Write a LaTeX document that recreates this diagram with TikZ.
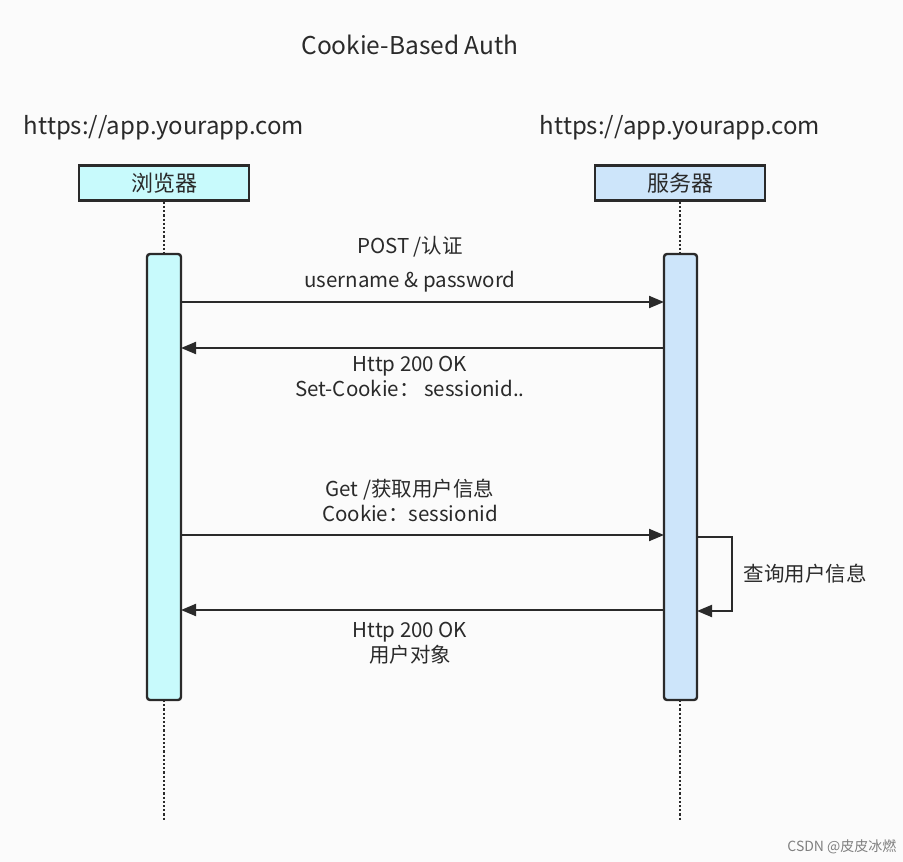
\documentclass[tikz,border=0pt]{standalone}
\usepackage{fontspec}
\setmainfont{Noto Sans CJK SC}
\usetikzlibrary{arrows.meta}
\definecolor{bcyan}{HTML}{C8FAFC}
\definecolor{sblue}{HTML}{CDE5FA}
\definecolor{ink}{HTML}{2A2A2A}
\begin{document}
\begin{tikzpicture}[x=1pt,y=-1pt,
  hdr/.style={draw=ink,line width=2.4pt,minimum width=170pt,minimum height=35pt,font=\fontsize{22}{24}\selectfont,text=ink},
  act/.style={draw=ink,line width=2.4pt,rounded corners=3pt},
  life/.style={ink,line width=2.2pt,dotted},
  msg/.style={ink,line width=2pt,-{Triangle[length=15pt,width=12pt]}},
  lbl/.style={font=\fontsize{20.5}{25}\selectfont,text=ink,align=center},
  url/.style={font=\fontsize{24}{26}\selectfont,text=ink}]
\fill[white!97!gray] (0,0) rectangle (903,862);
\useasboundingbox (0,0) rectangle (903,862);
\node[font=\fontsize{24.5}{26}\selectfont,text=ink] (title) at (410,45) {Cookie-Based Auth};
\node[url] (u1) at (164,128) {https://app.yourapp.com};
\node[url] (u2) at (680,128) {https://app.yourapp.com};
\node[hdr,fill=bcyan] (b) at (164,183) {浏览器};
\node[hdr,fill=sblue] (s) at (680,183) {服务器};
\draw[life] (b.south) -- (164,254);
\draw[life] (s.south) -- (680,254);
\draw[life] (164,700) -- (164,820);
\draw[life] (680,700) -- (680,820);
\draw[act,fill=bcyan] (147,254) rectangle (181,700);
\draw[act,fill=sblue] (664,254) rectangle (697,700);
\coordinate (l1) at (181,302); \coordinate (r1) at (664,302);
\coordinate (l2) at (181,348); \coordinate (r2) at (664,348);
\coordinate (l3) at (181,535); \coordinate (r3) at (664,535);
\coordinate (l4) at (181,610); \coordinate (r4) at (664,610);
\draw[msg] (l1) -- (r1);
\draw[msg] (r2) -- (l2);
\draw[msg] (l3) -- (r3);
\draw[msg] (r4) -- (l4);
\coordinate (sa) at (697,537); \coordinate (sb) at (697,611);
\draw[msg] (sa) -- (732,537) -- (732,611) -- (sb);
\node[lbl] (m1a) at (410,247) {POST /认证};
\node[lbl] (m1b) at (410,282) {username \& password};
\node[lbl] (m2) at (410,376) {Http 200 OK\\Set-Cookie：\ sessionid..};
\node[lbl] (m3) at (410,500) {Get /获取用户信息\\Cookie：sessionid};
\node[lbl] (m4) at (410,643) {Http 200 OK\\用户对象};
\node[lbl,anchor=west] (self) at (740,574) {查询用户信息};
\node[font=\fontsize{14}{16}\selectfont,text=gray,anchor=east] (wm) at (900,847) {CSDN @皮皮冰燃};
\end{tikzpicture}
\end{document}
